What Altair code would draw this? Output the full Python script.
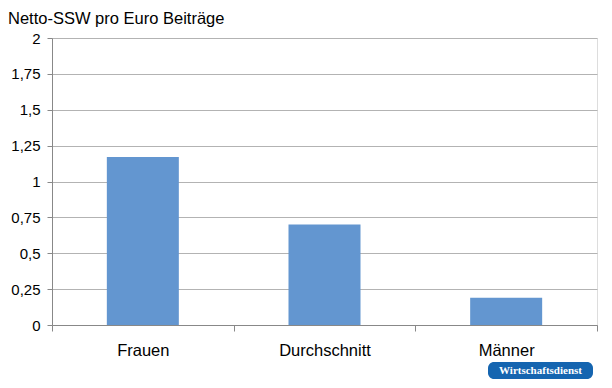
import altair as alt
import pandas as pd

categories = ["Frauen", "Durchschnitt", "Männer"]
values = [1.17, 0.70, 0.19]
y_ticks = [0, 0.25, 0.5, 0.75, 1, 1.25, 1.5, 1.75, 2]
title_text = "Netto-SSW pro Euro Beiträge"
logo_text = "Wirtschaftsdienst"

df = pd.DataFrame({"cat": categories, "val": values})
FONT = "Liberation Sans"

bars = alt.Chart(df).mark_bar(size=72, color="#6396d0").encode(
    x=alt.X("cat:N", sort=categories, title=None,
            scale=alt.Scale(paddingInner=0, paddingOuter=0),
            axis=alt.Axis(labelAngle=0, labelFont=FONT, labelFontSize=16.5,
                          labelColor="#000000", labelPadding=11,
                          tickBand="extent", tickSize=6, tickColor="#888888",
                          domainColor="#888888", grid=False)),
    y=alt.Y("val:Q", title=None,
            scale=alt.Scale(domain=[0, 2], nice=False),
            axis=alt.Axis(values=y_ticks, labelFont=FONT, labelFontSize=15,
                          labelColor="#000000", labelPadding=7, tickSize=5,
                          tickColor="#888888", domainColor="#888888",
                          gridColor="#b3b3b3", gridWidth=1.2,
                          labelExpr="replace(format(datum.value, ''), '.', ',')")),
)

title = alt.Chart(pd.DataFrame({"t": [title_text]})).mark_text(
    align="left", baseline="middle", font=FONT, fontSize=16.5, color="#000000"
).encode(x=alt.value(-44), y=alt.value(-19), text="t:N")

logo_bg = alt.Chart(pd.DataFrame({"t": [logo_text]})).mark_rect(
    color="#1565b0", cornerRadius=6
).encode(x=alt.value(436), x2=alt.value(541), y=alt.value(324), y2=alt.value(341))

logo_txt = alt.Chart(pd.DataFrame({"t": [logo_text]})).mark_text(
    align="center", baseline="middle", font="Liberation Serif", fontSize=11,
    fontWeight="bold", color="#ffffff"
).encode(x=alt.value(488.5), y=alt.value(333), text="t:N")

chart = alt.layer(bars, title, logo_bg, logo_txt).properties(
    width=545, height=287,
    autosize=alt.AutoSizeParams(type="none"),
    padding={"left": 44, "top": 30, "right": 7, "bottom": 55},
).configure_view(stroke=None).configure(background="#ffffff")

chart.save("out.html", embed_options={"renderer": "svg", "actions": False})
